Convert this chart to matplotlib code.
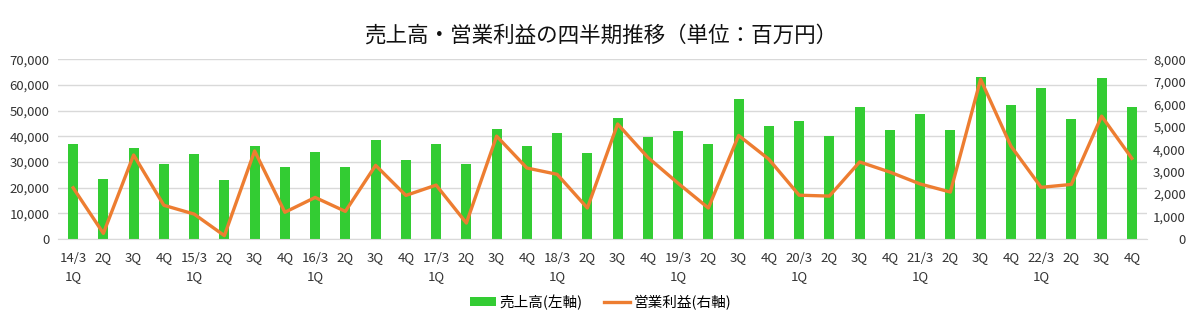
import matplotlib
matplotlib.use("Agg")
import matplotlib.pyplot as plt
from matplotlib.patches import Patch
from matplotlib.lines import Line2D
from matplotlib.ticker import FuncFormatter

plt.rcParams['font.family'] = ['Noto Sans CJK JP', 'DejaVu Sans']

# fiscal years and quarters
years = ['14/3', '15/3', '16/3', '17/3', '18/3', '19/3', '20/3', '21/3', '22/3']
quarters = ['1Q', '2Q', '3Q', '4Q']

# 売上高 (left axis, 百万円)
sales = [37000, 23400, 35500, 29200, 33100, 23000, 36200, 28100, 33900, 28100,
         38600, 30800, 37000, 29200, 42900, 36200, 41300, 33500, 47100, 39700,
         42100, 37000, 54500, 44000, 46000, 40100, 51400, 42500, 48700, 42500,
         63100, 52200, 58800, 46800, 62700, 51400]

# 営業利益 (right axis, 百万円)
profit = [2280, 250, 3740, 1500, 1110, 150, 3920, 1190, 1850, 1230,
          3280, 1940, 2400, 710, 4580, 3160, 2880, 1380, 5120, 3630,
          2480, 1380, 4610, 3550, 1950, 1910, 3430, 2980, 2450, 2090,
          7110, 4140, 2300, 2430, 5470, 3590]

labels = []
for y in years:
    for q in quarters:
        labels.append(f"{y}\n{q}" if q == '1Q' else q)

green = '#33CC33'
orange = '#ED7D31'
text_col = '#333333'

fig = plt.figure(figsize=(12.01, 3.25), dpi=100)
ax = fig.add_axes([58 / 1201, 86 / 325, 1089 / 1201, 179.7 / 325])
x = list(range(len(sales)))

ax.bar(x, sales, width=0.33, color=green, zorder=2)
ax.set_xlim(-0.5, len(sales) - 0.5)
ax.set_ylim(0, 70000)
ax.set_yticks(range(0, 70001, 10000))
ax.yaxis.set_major_formatter(FuncFormatter(lambda v, p: f"{int(v):,}"))
ax.grid(axis='y', color='#D9D9D9', linewidth=1, zorder=0)
ax.set_axisbelow(True)
ax.set_xticks(x)
ax.set_xticklabels(labels, fontsize=9.5, color=text_col, linespacing=1.55)
ax.tick_params(axis='x', length=0, pad=9)
ax.tick_params(axis='y', length=0, pad=6, labelsize=9.5, labelcolor=text_col)
for s in ['top', 'right', 'left']:
    ax.spines[s].set_visible(False)
ax.spines['bottom'].set_color('#D9D9D9')

ax2 = ax.twinx()
ax2.plot(x, profit, color=orange, linewidth=2.4, zorder=3)
ax2.set_ylim(0, 8000)
ax2.set_yticks(range(0, 8001, 1000))
ax2.yaxis.set_major_formatter(FuncFormatter(lambda v, p: f"{int(v):,}"))
ax2.tick_params(axis='y', length=0, pad=28, labelsize=9.5, labelcolor=text_col)
for s in ax2.spines.values():
    s.set_visible(False)
for lbl in ax2.get_yticklabels():
    lbl.set_horizontalalignment('right')

fig.text(0.5, 1 - 36 / 325, '売上高・営業利益の四半期推移（単位：百万円）',
         ha='center', va='center', fontsize=15.5, color='#111111')

handles = [Patch(facecolor=green, edgecolor='none'),
           Line2D([0], [0], color=orange, linewidth=2.4)]
fig.legend(handles, ['売上高(左軸)', '営業利益(右軸)'], loc='center',
           bbox_to_anchor=(0.5, 1 - 302 / 325), ncol=2, frameon=False,
           fontsize=10.5, handlelength=1.8, handleheight=0.6, columnspacing=1.5,
           handletextpad=0.2)

fig.savefig('out.png', dpi=100)
